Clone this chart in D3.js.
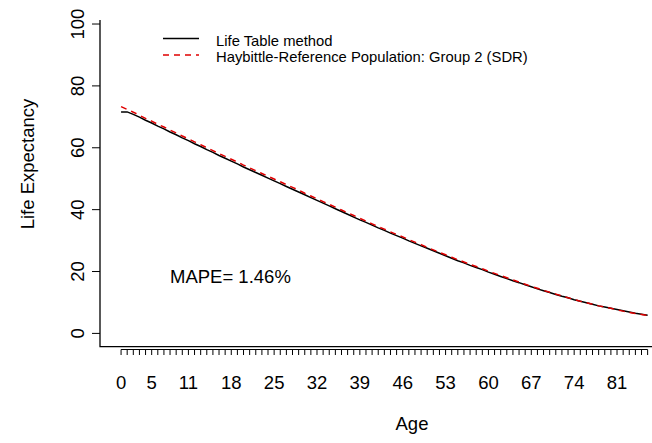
<!DOCTYPE html>
<html><head><meta charset="utf-8">
<script src="https://cdn.jsdelivr.net/npm/d3@7"></script>
<style>html,body{margin:0;padding:0;background:#fff;}svg{display:block;}</style>
</head><body>
<svg id="c" width="652" height="443"></svg>
<script>
const ages = d3.range(0, 87);
const lifeTable = [71.6,71.6,70.8,69.9,68.9,68.0,67.0,66.1,65.1,64.2,63.2,62.3,61.3,60.4,59.4,58.5,57.5,56.6,55.7,54.8,53.8,52.9,52.0,51.1,50.2,49.3,48.4,47.5,46.6,45.7,44.8,43.9,43.0,42.1,41.2,40.3,39.4,38.5,37.6,36.7,35.9,35.0,34.1,33.3,32.4,31.6,30.8,29.9,29.1,28.3,27.5,26.7,25.9,25.1,24.3,23.5,22.8,22.0,21.3,20.6,19.8,19.1,18.4,17.7,17.0,16.4,15.7,15.1,14.4,13.8,13.2,12.6,12.0,11.5,10.9,10.4,9.9,9.4,8.9,8.5,8.1,7.7,7.3,6.9,6.5,6.2,5.9];
const haybittle = [73.3,72.4,71.5,70.5,69.5,68.6,67.6,66.7,65.7,64.8,63.8,62.9,61.9,61.0,60.0,59.1,58.1,57.2,56.3,55.4,54.4,53.5,52.6,51.7,50.8,49.9,49.0,48.1,47.2,46.3,45.3,44.4,43.5,42.6,41.7,40.8,39.9,39.0,38.1,37.2,36.3,35.4,34.5,33.7,32.8,32.0,31.2,30.3,29.5,28.7,27.8,27.0,26.2,25.4,24.6,23.8,23.1,22.3,21.6,20.9,20.1,19.4,18.7,18.0,17.3,16.6,15.9,15.2,14.6,13.9,13.3,12.7,12.1,11.5,11.0,10.4,9.9,9.4,8.9,8.5,8.1,7.6,7.2,6.8,6.4,6.1,5.8];
const xTickLabels = [0,5,11,18,25,32,39,46,53,60,67,74,81];
const yTicks = [0,20,40,60,80,100];
const seriesNames = ["Life Table method","Haybittle-Reference Population: Group 2 (SDR)"];
const mapeText = "MAPE= 1.46%";

const svg = d3.select("#c");
const font = "'Liberation Sans', Arial, sans-serif";
const fs = 18.5, legFs = 14.8;
const plotLeft = 100, plotBottom = 346.7, plotTop = 20;
const x = d3.scaleLinear().domain([-3.44, 89.44]).range([100, 668.7]);
const y = d3.scaleLinear().domain([-4.3, 101.3]).range([plotBottom, plotTop]);

// box (bty = "l")
svg.append("path").attr("d", `M${plotLeft},${plotTop}V${plotBottom}H652`).attr("fill","none").attr("stroke","#000").attr("stroke-width",1.3);

// y axis ticks + labels
const yg = svg.append("g");
yTicks.forEach(v => {
  yg.append("line").attr("x1", plotLeft-8).attr("x2", plotLeft).attr("y1", y(v)).attr("y2", y(v)).attr("stroke","#000").attr("stroke-width",1);
  yg.append("text").attr("transform", `translate(77,${y(v)}) rotate(-90)`)
    .attr("text-anchor","middle").attr("dominant-baseline","central")
    .attr("font-family",font).attr("font-size",fs).text(v);
});

// x axis: own axis line just under the box, ticks every age
const axY = 349.5;
const xg = svg.append("g");
xg.append("line").attr("x1", x(ages[0])).attr("x2", x(ages[ages.length-1])).attr("y1", axY).attr("y2", axY).attr("stroke","#000").attr("stroke-width",1);
ages.forEach(a => {
  xg.append("line").attr("x1", x(a)).attr("x2", x(a)).attr("y1", axY).attr("y2", axY+5.5).attr("stroke","#000").attr("stroke-width",1);
});
xTickLabels.forEach(a => {
  xg.append("text").attr("x", x(a)).attr("y", 389).attr("text-anchor","middle")
    .attr("font-family",font).attr("font-size",fs).text(a);
});

// axis titles
svg.append("text").attr("x", 412).attr("y", 430).attr("text-anchor","middle")
  .attr("font-family",font).attr("font-size",fs).text("Age");
svg.append("text").attr("transform", "translate(27,164) rotate(-90)").attr("text-anchor","middle")
  .attr("dominant-baseline","central").attr("font-family",font).attr("font-size",fs).text("Life Expectancy");

// lines
const line = d3.line().x((d,i) => x(ages[i])).y(d => y(d));
svg.append("path").datum(lifeTable).attr("d", line).attr("fill","none").attr("stroke","#000").attr("stroke-width",1.5);
svg.append("path").datum(haybittle).attr("d", line).attr("fill","none").attr("stroke","#e00000").attr("stroke-width",1.5).attr("stroke-dasharray","6,5");

// legend
const lg = svg.append("g");
lg.append("line").attr("x1",163).attr("x2",199).attr("y1",38.5).attr("y2",38.5).attr("stroke","#000").attr("stroke-width",1.5);
lg.append("line").attr("x1",163).attr("x2",199).attr("y1",55).attr("y2",55).attr("stroke","#e00000").attr("stroke-width",1.5).attr("stroke-dasharray","6,5");
lg.append("text").attr("x",216).attr("y",45.5).attr("font-family",font).attr("font-size",legFs).text(seriesNames[0]);
lg.append("text").attr("x",216).attr("y",62).attr("font-family",font).attr("font-size",legFs).text(seriesNames[1]);

// MAPE
svg.append("text").attr("x",170).attr("y",283).attr("font-family",font).attr("font-size",fs).text(mapeText);
</script>
</body></html>
